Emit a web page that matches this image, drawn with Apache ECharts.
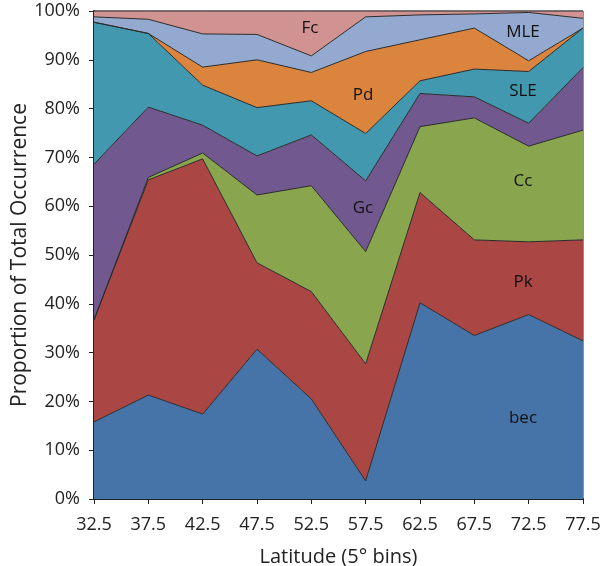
<!DOCTYPE html>
<html><head><meta charset="utf-8">
<script src="https://cdn.jsdelivr.net/npm/echarts@6/dist/echarts.min.js"></script>
<style>html,body{margin:0;padding:0;background:#fff}#c{width:602px;height:566px}</style>
</head><body><div id="c"></div>
<script>
const latitudes = ['32.5','37.5','42.5','47.5','52.5','57.5','62.5','67.5','72.5','77.5'];
const bec = [15.8, 21.3, 17.4, 30.7, 20.5, 3.7, 40.2, 33.5, 37.8, 32.4];
const Pk  = [20.9, 44.1, 52.3, 17.7, 22.0, 24.0, 22.6, 19.6, 14.9, 20.7];
const Cc  = [0, 0.5, 1.2, 13.9, 21.7, 23.0, 13.5, 25.0, 19.6, 22.5];
const Gc  = [31.9, 14.4, 5.7, 8.0, 10.4, 14.5, 6.8, 4.3, 4.7, 12.8];
const SLE = [29.1, 15.1, 8.2, 9.9, 7.0, 9.7, 2.6, 5.7, 10.6, 8.1];
const Pd  = [0, 0, 3.7, 9.8, 5.8, 16.8, 8.4, 8.4, 2.2, 0];
const MLE = [1.1, 2.9, 6.8, 5.2, 3.4, 7.1, 5.1, 2.9, 9.9, 2.0];
const Fc  = [1.2, 1.7, 4.7, 4.8, 9.2, 1.2, 0.8, 0.6, 0.3, 1.5];
const seriesNames = ['bec','Pk','Cc','Gc','SLE','Pd','MLE','Fc'];
const seriesData = [bec, Pk, Cc, Gc, SLE, Pd, MLE, Fc];
const colors = ['#4674A9','#AA4643','#89A54E','#71588F','#4198AF','#DB843D','#93A9CF','#D19392'];

const FONT = '"Open Sans", "Noto Sans", sans-serif';
function lbl(t, x, y) {
  return {type:'text', x: x, y: y, z: 100, zlevel: 0,
    style:{text: t, font: '17px ' + FONT, fill: '#111', align: 'center', verticalAlign: 'middle'}};
}
const chart = echarts.init(document.getElementById('c'), null, {renderer:'canvas'});
chart.setOption({
  animation: false,
  backgroundColor: '#fff',
  grid: {left: 94, right: 19, top: 11, bottom: 67, containLabel: false, outerBoundsMode: 'none',
         show: true, borderColor: '#222', borderWidth: 1},
  xAxis: {
    type: 'category', data: latitudes, boundaryGap: false,
    name: 'Latitude (5° bins)', nameLocation: 'middle', nameGap: 48, nameMoveOverlap: false,
    nameTextStyle: {fontFamily: FONT, fontSize: 20, color: '#222'},
    axisLine: {lineStyle: {color: '#222', width: 2}},
    axisTick: {show: true, length: 5, lineStyle: {color: '#222'}, alignWithLabel: true},
    axisLabel: {fontFamily: FONT, fontSize: 18, color: '#222', margin: 17},
    splitLine: {show: false}
  },
  yAxis: {
    type: 'value', min: 0, max: 100, interval: 10,
    name: 'Proportion of Total Occurrence', nameLocation: 'middle', nameGap: 63, nameMoveOverlap: false,
    nameTextStyle: {fontFamily: FONT, fontSize: 21, color: '#222'},
    axisLine: {show: true, lineStyle: {color: '#222', width: 2}},
    axisTick: {show: true, length: 5, lineStyle: {color: '#222'}},
    axisLabel: {fontFamily: FONT, fontSize: 18, color: '#222', margin: 14, formatter: '{value}%'},
    splitLine: {show: false}
  },
  series: seriesNames.map((n, i) => ({
    name: n, type: 'line', stack: 'total', data: seriesData[i],
    symbol: 'none', smooth: false,
    lineStyle: {color: '#2a2a2a', width: 1},
    areaStyle: {color: colors[i], opacity: 1},
    itemStyle: {color: colors[i]},
    z: 2
  })),
  graphic: [
    lbl('bec', 523, 418),
    lbl('Pk', 523, 282),
    lbl('Cc', 523, 181),
    lbl('Gc', 363, 208),
    lbl('SLE', 523, 91),
    lbl('Pd', 363, 95),
    lbl('MLE', 523, 32),
    lbl('Fc', 310, 28)
  ]
});
</script></body></html>
